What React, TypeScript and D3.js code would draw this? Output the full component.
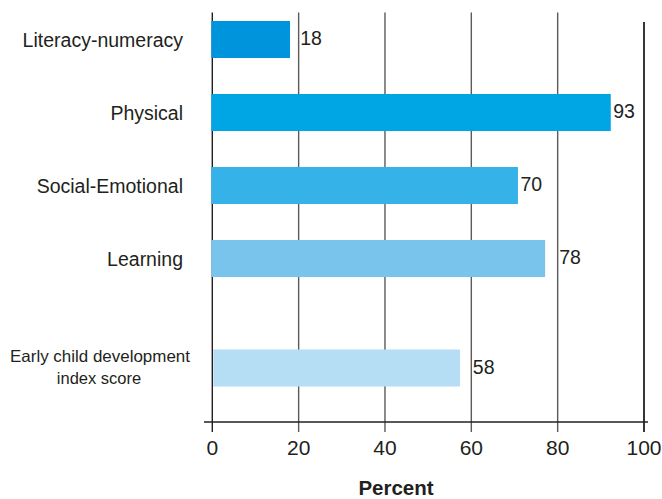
import React from "react";
import * as d3 from "d3";

const categories = [
  "Literacy-numeracy",
  "Physical",
  "Social-Emotional",
  "Learning",
  "Early child development|index score",
];
// value labels as printed
const valueLabels = [18, 93, 70, 78, 58];
// bar lengths as measured in the picture
const barValues = [18, 92.3, 70.8, 77.1, 57.4];
// slot index (summary row is set apart by half a slot)
const slots = [0, 1, 2, 3, 4.5];
const colors = ["#0094dc", "#00a5e3", "#35b2e7", "#78c4ed", "#b5def4"];
const xTicks = [0, 20, 40, 60, 80, 100];

const W = 662;
const H = 499;

export default function App() {
  const x = d3.scaleLinear().domain([0, 100]).range([212.3, 644]);
  const y = d3.scaleLinear().domain([0, 1]).range([39.5, 112.5]);
  const barH = 37;
  const axisY = 422;
  const font = "Liberation Sans, Arial, Helvetica, sans-serif";

  const labelX = (v: number) => {
    const end = x(v);
    // if a grid line sits just past the bar end, put the label beyond it
    const g = xTicks.find((t) => x(t) > end && x(t) - end < 14);
    return g !== undefined ? x(g) + 1.5 : end + 2.5;
  };

  return (
    <svg
      width={W}
      height={H}
      style={{ position: "absolute", left: 0, top: 0, background: "#fff" }}
      fontFamily={font}
    >
      {/* grid lines */}
      {xTicks.map((t, i) => {
        const last = i === xTicks.length - 1;
        const first = i === 0;
        return (
          <line
            key={t}
            x1={x(t)}
            x2={x(t)}
            y1={last ? 22 : 12.5}
            y2={axisY + 10}
            stroke={first || last ? "#231f20" : "#5d5a59"}
            strokeWidth={last ? 1.8 : 1.4}
          />
        );
      })}
      {/* axis */}
      <line x1={204} x2={648} y1={axisY} y2={axisY} stroke="#231f20" strokeWidth={1.3} />
      {xTicks.map((t) => (
        <text
          key={"t" + t}
          x={x(t)}
          y={455}
          textAnchor="middle"
          fontSize={21}
          fill="#231f20"
        >
          {t}
        </text>
      ))}
      <text x={396} y={495} textAnchor="middle" fontSize={20.5} fontWeight="bold" fill="#231f20">
        Percent
      </text>
      {/* bars */}
      {categories.map((c, i) => {
        const cy = y(slots[i]);
        return (
          <g key={c}>
            <rect
              x={x(0) - (i === 4 ? -1 : 1)}
              y={cy - barH / 2}
              width={x(barValues[i]) - x(0) + (i === 4 ? -1 : 1)}
              height={barH}
              fill={colors[i]}
            />
            <text
              x={labelX(barValues[i])}
              y={cy + 5.5}
              fontSize={19.5}
              fill="#231f20"
            >
              {valueLabels[i]}
            </text>
          </g>
        );
      })}
      {/* category labels */}
      {categories.map((c, i) => {
        const cy = y(slots[i]);
        const parts = c.split("|");
        if (parts.length > 1) {
          return (
            <text key={"l" + c} textAnchor="middle" fontSize={16.5} fill="#231f20">
              <tspan x={100} y={cy - 6} textLength={180} lengthAdjust="spacingAndGlyphs">
                {parts[0]}
              </tspan>
              <tspan x={99} y={cy + 15.5}>
                {parts[1]}
              </tspan>
            </text>
          );
        }
        return (
          <text
            key={"l" + c}
            x={183}
            y={cy + 7}
            textAnchor="end"
            fontSize={19.5}
            fill="#231f20"
          >
            {c}
          </text>
        );
      })}
    </svg>
  );
}
